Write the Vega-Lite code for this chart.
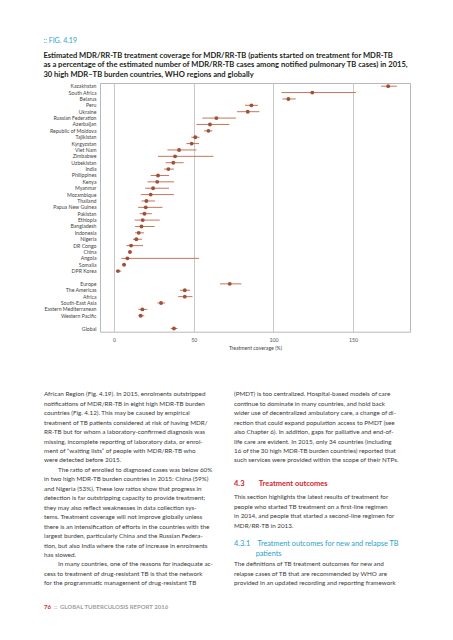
{
  "$schema": "https://vega.github.io/schema/vega-lite/v6.json",
  "background": "white",
  "padding": {"left": 43, "top": 37, "right": 0, "bottom": 0},
  "bounds": "flush",
  "spacing": 57.6,
  "config": {"font": "Lato", "view": {"stroke": null}},
  "title": {
    "text": ":: FIG. 4.19",
    "subtitle": [
      "Estimated MDR/RR-TB treatment coverage for MDR/RR-TB (patients started on treatment for MDR-TB",
      "as a percentage of the estimated number of MDR/RR-TB cases among notified pulmonary TB cases) in 2015,",
      "30 high MDR–TB burden countries, WHO regions and globally"
    ],
    "anchor": "start",
    "frame": "bounds",
    "font": "Lato",
    "fontSize": 7,
    "fontWeight": "normal",
    "color": "#2a9fcb",
    "subtitleFont": "Lato",
    "subtitleFontSize": 7.6,
    "subtitleFontWeight": "bold",
    "subtitleColor": "#231f20",
    "subtitleLineHeight": 9.3,
    "subtitlePadding": 8,
    "offset": 4.2
  },
  "vconcat": [
    {
      "width": 310,
      "height": 248.7,
      "view": {"stroke": "#b8b8b8", "strokeWidth": 1},
      "data": {
        "values": [
          {"entity": "Kazakhstan", "val": 172, "lo": 167.5, "hi": 177.5},
          {"entity": "South Africa", "val": 124.4, "lo": 105, "hi": 151.8},
          {"entity": "Belarus", "val": 109.4, "lo": 105.6, "hi": 114},
          {"entity": "Peru", "val": 86.2, "lo": 82.2, "hi": 90.3},
          {"entity": "Ukraine", "val": 83.9, "lo": 77.2, "hi": 91.2},
          {"entity": "Russian Federation", "val": 64.2, "lo": 55.4, "hi": 76.5},
          {"entity": "Azerbaijan", "val": 60.2, "lo": 51.7, "hi": 72.4},
          {"entity": "Republic of Moldova", "val": 59.2, "lo": 56.5, "hi": 61.7},
          {"entity": "Tajikistan", "val": 51, "lo": 48.5, "hi": 53.6},
          {"entity": "Kyrgyzstan", "val": 48.7, "lo": 45.4, "hi": 53.3},
          {"entity": "Viet Nam", "val": 40.8, "lo": 33.5, "hi": 51.7},
          {"entity": "Zimbabwe", "val": 38.3, "lo": 27.6, "hi": 62.4},
          {"entity": "Uzbekistan", "val": 37.2, "lo": 32.4, "hi": 43.7},
          {"entity": "India", "val": 34.1, "lo": 31.4, "hi": 37.6},
          {"entity": "Philippines", "val": 27.6, "lo": 23, "hi": 34.5},
          {"entity": "Kenya", "val": 27.1, "lo": 21, "hi": 37.6},
          {"entity": "Myanmar", "val": 24.5, "lo": 19.5, "hi": 34.5},
          {"entity": "Mozambique", "val": 23, "lo": 16.8, "hi": 37.6},
          {"entity": "Thailand", "val": 20.3, "lo": 17.2, "hi": 25.7},
          {"entity": "Papua New Guinea", "val": 19.9, "lo": 15.1, "hi": 30.4},
          {"entity": "Pakistan", "val": 19.1, "lo": 16.1, "hi": 23.7},
          {"entity": "Ethiopia", "val": 18, "lo": 13, "hi": 28.7},
          {"entity": "Bangladesh", "val": 17.2, "lo": 13.2, "hi": 25.5},
          {"entity": "Indonesia", "val": 15.5, "lo": 13.2, "hi": 18.8},
          {"entity": "Nigeria", "val": 14, "lo": 11.9, "hi": 17.6},
          {"entity": "DR Congo", "val": 10.7, "lo": 7.8, "hi": 18.2},
          {"entity": "China", "val": 10, "lo": 9, "hi": 11},
          {"entity": "Angola", "val": 8.4, "lo": 4.6, "hi": 53.3},
          {"entity": "Somalia", "val": 6.3, "lo": 5, "hi": 7.5},
          {"entity": "DPR Korea", "val": 2.5, "lo": 1.1, "hi": 4.6},
          {"entity": "Europe", "val": 72.6, "lo": 66.5, "hi": 79.9},
          {"entity": "The Americas", "val": 44.4, "lo": 41.4, "hi": 47.7},
          {"entity": "Africa", "val": 44.4, "lo": 40.2, "hi": 49.2},
          {"entity": "South-East Asia", "val": 29.5, "lo": 27.2, "hi": 32},
          {"entity": "Eastern Mediterranean", "val": 17.8, "lo": 15.3, "hi": 20.9},
          {"entity": "Western Pacific", "val": 16.7, "lo": 15.2, "hi": 19},
          {"entity": "Global", "val": 37.6, "lo": 35.6, "hi": 39.8}
        ]
      },
      "encoding": {
        "y": {
          "field": "entity",
          "type": "nominal",
          "sort": null,
          "scale": {
            "domain": ["Kazakhstan", "South Africa", "Belarus", "Peru", "Ukraine", "Russian Federation", "Azerbaijan", "Republic of Moldova", "Tajikistan", "Kyrgyzstan", "Viet Nam", "Zimbabwe", "Uzbekistan", "India", "Philippines", "Kenya", "Myanmar", "Mozambique", "Thailand", "Papua New Guinea", "Pakistan", "Ethiopia", "Bangladesh", "Indonesia", "Nigeria", "DR Congo", "China", "Angola", "Somalia", "DPR Korea", " ", "Europe", "The Americas", "Africa", "South-East Asia", "Eastern Mediterranean", "Western Pacific", "  ", "Global"],
            "paddingInner": 0,
            "paddingOuter": 0
          },
          "axis": {
            "title": null,
            "ticks": false,
            "domain": false,
            "grid": false,
            "labelFont": "Lato",
            "labelFontSize": 5.2,
            "labelColor": "#444444",
            "labelPadding": 4
          }
        }
      },
      "layer": [
        {
          "mark": {"type": "rule", "color": "#c3775b", "strokeWidth": 1},
          "encoding": {
            "x": {"field": "lo", "type": "quantitative"},
            "x2": {"field": "hi"}
          }
        },
        {
          "mark": {"type": "point", "filled": true, "opacity": 1, "color": "#a14f36", "size": 15},
          "encoding": {
            "x": {
              "field": "val",
              "type": "quantitative",
              "scale": {"domain": [-8.8, 185.7], "nice": false, "zero": false},
              "axis": {
                "values": [0, 50, 100, 150],
                "title": "Treatment coverage (%)",
                "grid": true,
                "gridColor": "#c8c8c8",
                "gridWidth": 1,
                "ticks": false,
                "domain": false,
                "labelFont": "Lato",
                "labelFontSize": 5.2,
                "labelColor": "#555555",
                "labelPadding": 6,
                "titleFont": "Lato",
                "titleFontSize": 5.2,
                "titleFontWeight": "normal",
                "titleColor": "#444444",
                "titlePadding": 3
              }
            }
          }
        }
      ]
    },
    {
      "width": 310,
      "height": 222.1,
      "data": {
        "values": [
          {"col": 0, "line": 0, "kind": "body", "text": "African Region (Fig. 4.19). In 2015, enrolments outstripped"},
          {"col": 0, "line": 1, "kind": "body", "text": "notifications of MDR/RR-TB in eight high MDR-TB burden"},
          {"col": 0, "line": 2, "kind": "body", "text": "countries (Fig. 4.12). This may be caused by empirical"},
          {"col": 0, "line": 3, "kind": "body", "text": "treatment of TB patients considered at risk of having MDR/"},
          {"col": 0, "line": 4, "kind": "body", "text": "RR-TB but for whom a laboratory-confirmed diagnosis was"},
          {"col": 0, "line": 5, "kind": "body", "text": "missing, incomplete reporting of laboratory data, or enrol-"},
          {"col": 0, "line": 6, "kind": "body", "text": "ment of “waiting lists” of people with MDR/RR-TB who"},
          {"col": 0, "line": 7, "kind": "body", "text": "were detected before 2015."},
          {"col": 0, "line": 8, "kind": "indent", "text": "The ratio of enrolled to diagnosed cases was below 60%"},
          {"col": 0, "line": 9, "kind": "body", "text": "in two high MDR-TB burden countries in 2015: China (59%)"},
          {"col": 0, "line": 10, "kind": "body", "text": "and Nigeria (53%). These low ratios show that progress in"},
          {"col": 0, "line": 11, "kind": "body", "text": "detection is far outstripping capacity to provide treatment;"},
          {"col": 0, "line": 12, "kind": "body", "text": "they may also reflect weaknesses in data collection sys-"},
          {"col": 0, "line": 13, "kind": "body", "text": "tems. Treatment coverage will not improve globally unless"},
          {"col": 0, "line": 14, "kind": "body", "text": "there is an intensification of efforts in the countries with the"},
          {"col": 0, "line": 15, "kind": "body", "text": "largest burden, particularly China and the Russian Federa-"},
          {"col": 0, "line": 16, "kind": "body", "text": "tion, but also India where the rate of increase in enrolments"},
          {"col": 0, "line": 17, "kind": "body", "text": "has slowed."},
          {"col": 0, "line": 18, "kind": "indent", "text": "In many countries, one of the reasons for inadequate ac-"},
          {"col": 0, "line": 19, "kind": "body", "text": "cess to treatment of drug-resistant TB is that the network"},
          {"col": 0, "line": 20, "kind": "body", "text": "for the programmatic management of drug-resistant TB"},
          {"col": 1, "line": 0, "kind": "body", "text": "(PMDT) is too centralized. Hospital-based models of care"},
          {"col": 1, "line": 1, "kind": "body", "text": "continue to dominate in many countries, and hold back"},
          {"col": 1, "line": 2, "kind": "body", "text": "wider use of decentralized ambulatory care, a change of di-"},
          {"col": 1, "line": 3, "kind": "body", "text": "rection that could expand population access to PMDT (see"},
          {"col": 1, "line": 4, "kind": "body", "text": "also Chapter 6). In addition, gaps for palliative and end-of-"},
          {"col": 1, "line": 5, "kind": "body", "text": "life care are evident. In 2015, only 34 countries (including"},
          {"col": 1, "line": 6, "kind": "body", "text": "16 of the 30 high MDR-TB burden countries) reported that"},
          {"col": 1, "line": 7, "kind": "body", "text": "such services were provided within the scope of their NTPs."},
          {"col": 1, "line": 9.52, "kind": "h1", "text": "4.3\u00a0\u00a0\u00a0\u00a0\u00a0\u00a0\u00a0\u00a0Treatment outcomes"},
          {"col": 1, "line": 10.9, "kind": "body", "text": "This section highlights the latest results of treatment for"},
          {"col": 1, "line": 11.9, "kind": "body", "text": "people who started TB treatment on a first-line regimen"},
          {"col": 1, "line": 12.9, "kind": "body", "text": "in 2014, and people that started a second-line regimen for"},
          {"col": 1, "line": 13.94, "kind": "body", "text": "MDR/RR-TB in 2013."},
          {"col": 1, "line": 15.8, "kind": "h2", "text": "4.3.1\u00a0\u00a0\u00a0\u00a0Treatment outcomes for new and relapse TB"},
          {"col": 1, "line": 16.93, "kind": "h2indent", "text": "patients"},
          {"col": 1, "line": 18, "kind": "body", "text": "The definitions of TB treatment outcomes for new and"},
          {"col": 1, "line": 19, "kind": "body", "text": "relapse cases of TB that are recommended by WHO are"},
          {"col": 1, "line": 20, "kind": "body", "text": "provided in an updated recording and reporting framework"},
          {"col": 0, "line": 22.5, "kind": "footer", "text": "::\u00a0\u00a0GLOBAL TUBERCULOSIS REPORT 2016"},
          {"col": 0, "line": 22.5, "kind": "pagenum", "text": "76"}
        ]
      },
      "encoding": {
        "x": {"field": "col", "type": "quantitative", "scale": {"domain": [0, 1], "range": [-56, 134], "nice": false, "zero": false}, "axis": null},
        "y": {"field": "line", "type": "quantitative", "scale": {"domain": [-0.5, 23], "nice": false, "zero": false, "reverse": true}, "axis": null},
        "text": {"field": "text"}
      },
      "layer": [
        {
          "transform": [{"filter": "datum.kind === 'body'"}],
          "mark": {"type": "text", "align": "left", "baseline": "middle", "font": "Lato", "fontSize": 6.3, "color": "#3a3a3a"}
        },
        {
          "transform": [{"filter": "datum.kind === 'indent'"}],
          "mark": {"type": "text", "align": "left", "baseline": "middle", "font": "Lato", "fontSize": 6.3, "color": "#3a3a3a", "dx": 14}
        },
        {
          "transform": [{"filter": "datum.kind === 'h1'"}],
          "mark": {"type": "text", "align": "left", "baseline": "middle", "font": "Lato", "fontSize": 7.5, "fontWeight": "bold", "color": "#d2232a"}
        },
        {
          "transform": [{"filter": "datum.kind === 'h2'"}],
          "mark": {"type": "text", "align": "left", "baseline": "middle", "font": "Lato", "fontSize": 7.3, "color": "#2a9fcb"}
        },
        {
          "transform": [{"filter": "datum.kind === 'h2indent'"}],
          "mark": {"type": "text", "align": "left", "baseline": "middle", "font": "Lato", "fontSize": 7.3, "color": "#2a9fcb", "dx": 21.7}
        },
        {
          "transform": [{"filter": "datum.kind === 'footer'"}],
          "mark": {"type": "text", "align": "left", "baseline": "middle", "font": "Lato", "fontSize": 6, "fontWeight": "bold", "color": "#a0a0a0", "dx": 10}
        },
        {
          "transform": [{"filter": "datum.kind === 'pagenum'"}],
          "mark": {"type": "text", "align": "left", "baseline": "middle", "font": "Lato", "fontSize": 6, "fontWeight": "bold", "color": "#d2232a"}
        }
      ]
    }
  ]
}
